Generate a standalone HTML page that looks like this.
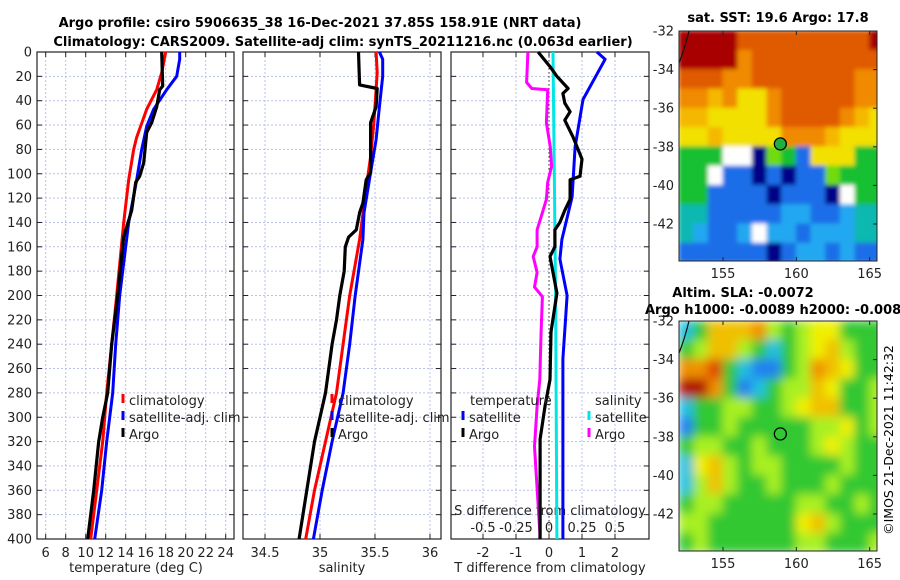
<!DOCTYPE html>
<html><head><meta charset="utf-8">
<style>
html,body{margin:0;padding:0;background:#fff;}
svg{display:block;font-family:"DejaVu Sans","Liberation Sans",sans-serif;}
</style></head>
<body>
<svg id="fig" width="900" height="580" viewBox="0 0 900 580" xmlns="http://www.w3.org/2000/svg">
<text x="320" y="27" font-size="13" font-weight="bold" text-anchor="middle">Argo profile: csiro 5906635_38 16-Dec-2021 37.85S 158.91E (NRT data)</text>
<text x="343" y="46" font-size="13" font-weight="bold" text-anchor="middle">Climatology: CARS2009. Satellite-adj clim: synTS_20211216.nc (0.063d earlier)</text>
<text x="778" y="22" font-size="13" font-weight="bold" text-anchor="middle">sat. SST: 19.6 Argo: 17.8</text>
<text x="743" y="297" font-size="13" font-weight="bold" text-anchor="middle">Altim. SLA: -0.0072</text>
<text x="645" y="314" font-size="13" font-weight="bold">Argo h1000: -0.0089 h2000: -0.008</text>
<text transform="translate(893,440) rotate(-90)" font-size="12.5" text-anchor="middle">©IMOS 21-Dec-2021 11:42:32</text>
<g id="layer"></g>
</svg>
<script>
// ---- Data: temperature panel ----
const climTDepth = [0,17,31,47,70,80,105,140,200,240,280,320,360,400];
const climT = [18.0,17.6,17.1,16.1,15.1,14.8,14.3,13.8,13.1,12.6,12.1,11.7,11.1,10.5];
const satTDepth = [0,6,20,31,47,61,80,105,140,200,240,280,320,360,400];
const satT = [19.4,19.4,19.1,18.1,16.8,16.1,15.6,15.1,14.3,13.4,13.0,12.7,12.1,11.6,10.9];
const argoTDepth = [0,28,31,45,58,66,91,102,107,130,152,175,200,220,240,260,280,300,320,360,400];
const argoT = [17.6,17.7,17.4,17.1,16.6,16.1,15.8,15.4,15.0,14.6,13.8,13.5,13.2,12.9,12.6,12.4,12.2,11.7,11.3,10.8,10.2];
// ---- Data: salinity panel ----
const climSDepth = [0,17,58,86,105,154,200,240,280,320,360,400];
const climS = [35.51,35.52,35.49,35.46,35.43,35.36,35.27,35.21,35.15,35.05,34.95,34.87];
const satSDepth = [0,6,20,45,72,99,132,154,200,240,280,320,360,400];
const satS = [35.54,35.57,35.57,35.54,35.51,35.46,35.40,35.39,35.32,35.27,35.21,35.11,35.02,34.94];
const argoSDepth = [0,27,30,45,58,99,105,124,132,146,152,160,180,200,220,240,260,280,300,320,360,400];
const argoS = [35.35,35.36,35.52,35.51,35.46,35.46,35.42,35.39,35.36,35.33,35.26,35.23,35.22,35.18,35.15,35.11,35.08,35.05,35.00,34.95,34.88,34.81];
// ---- Data: difference panel ----
const dTsatDepth = [0,6,39,78,119,154,170,200,220,252,318,400];
const dTsat = [1.45,1.7,1.03,0.79,0.70,0.39,0.33,0.55,0.5,0.42,0.42,0.42];
const dTargoDepth = [0,12,20,30,34,42,49,56,70,88,102,105,121,130,140,146,160,168,181,198,230,269,291,318,394,400];
const dTargo = [-0.33,0.03,0.24,0.58,0.42,0.48,0.64,0.48,0.73,1.0,0.94,0.64,0.64,0.48,0.33,0.18,0.18,0.03,0.12,0.24,0.06,0.03,-0.12,-0.27,-0.27,-0.27];
const dSsatDepth = [0,200,400];
const dSsat = [0.03,0.05,0.06];
const dSargoDepth = [0,25,30,31,58,78,94,107,121,132,146,160,168,181,193,201,230,269,291,324,394,400];
const dSargo = [-0.16,-0.17,-0.13,-0.01,-0.02,0.01,0.02,-0.01,-0.02,-0.05,-0.09,-0.09,-0.12,-0.09,-0.11,-0.05,-0.06,-0.07,-0.09,-0.11,-0.07,-0.07];
// ---- Tick labels ----
const depthTicks = [0,20,40,60,80,100,120,140,160,180,200,220,240,260,280,300,320,340,360,380,400];
const tempTicks = [6,8,10,12,14,16,18,20,22,24];
const salTicks = [34.5,35,35.5,36];
const salTickLabels = ["34.5","35","35.5","36"];
const dTTicks = [-2,-1,0,1,2];
const dSTicks = [-0.5,-0.25,0,0.25,0.5];
const dSTickLabels = ["-0.5","-0.25","0","0.25","0.5"];
const latTicks = [-32,-34,-36,-38,-40,-42];
const lonTicks = [155,160,165];
const argoLon = 158.91, argoLat = -37.85;
// ---- Map colour grids (1 deg cells, lon 152..166, lat -32..-44) ----
const sstGrid = [
"RRRROOOOOOOOOR","RRRRoOOOOOOOOO","OOOooOOOOOOOoo","ooYoyyoOOOOOoo",
"YYyyyyoOOOOoYy","yyYyyyyoooYyyy","gggwwnGgbyyygg","ggwbbnbnbbGggg",
"ggbbbbnbbbnwgg","ccbbbbbBBbbBcc","cBbbBwBBbBBBcc","bbbbbbnbBBbBbb"];
const slaGrid = [
"CGOOOoLGLYYGGG","GLOOLGCGLYOLGG","oorGCBBGLoOYGG","RRoGBCGLLOYGGL",
"CGGLLGGLYOOGGL","BGGLGGGGGLLYGL","GLLGGLGGGLYLGG","CYOLGLLGGGGLGG",
"CLOLGGLGGGLGGG","GLLGGGGGLLGGLG","LLGGGGGGYOLGGG","GLGGGGGGLLGGGL"];
const sstColors = {R:"#a80000",O:"#e05a00",o:"#f08a00",Y:"#f5b800",y:"#f2e000",G:"#70dc10",g:"#18c030",c:"#10b8b0",b:"#1e6ee8",B:"#22a8f0",n:"#000088",w:"#ffffff"};
const slaColors = {G:"#30c830",L:"#a8f020",Y:"#f0f000",O:"#f0c000",o:"#f09000",r:"#e04000",R:"#b01000",C:"#20c0e0",B:"#2080f0"};

const NS="http://www.w3.org/2000/svg";
const layer=document.getElementById('layer');
function mk(tag,attrs,parent){const e=document.createElementNS(NS,tag);for(const k in attrs)e.setAttribute(k,attrs[k]);(parent||layer).appendChild(e);return e;}

const TOP=52,BOT=539;
const yD=d=>TOP+d*(BOT-TOP)/400;
const xT=t=>45.7+(t-6)*10;
const xS=s=>265+(s-34.5)*110;
const xdT=t=>549+t*33;
const xdS=s=>549+s*132;

function panelFrame(name,x0,x1,vgrid,vxf){
  const g=mk('g',{});
  
  
  vgrid.forEach(v=>{const gx=vxf(v);const l=mk('line',{x1:gx,x2:gx,y1:TOP,y2:BOT,stroke:"#b8c0e8","stroke-width":1,"stroke-dasharray":"2,2"},g);
    });
  depthTicks.forEach(d=>{const y=yD(d);const l=mk('line',{x1:x0,x2:x1,y1:y,y2:y,stroke:"#b8c0e8","stroke-width":1,"stroke-dasharray":"2,2"},g);
    
    mk('line',{x1:x0,x2:x0+5,y1:y,y2:y,stroke:"#222"},g);mk('line',{x1:x1-5,x2:x1,y1:y,y2:y,stroke:"#222"},g);});
  vgrid.forEach(v=>{const gx=vxf(v);mk('line',{x1:gx,x2:gx,y1:BOT-5,y2:BOT,stroke:"#222"},g);mk('line',{x1:gx,x2:gx,y1:TOP,y2:TOP+5,stroke:"#222"},g);});
  const r=mk('rect',{x:x0,y:TOP,width:x1-x0,height:BOT-TOP,fill:"none",stroke:"#222","stroke-width":1.2},g);
  
  return g;
}
function series(name,depths,vals,xf,color,w){
  const pts=depths.map((d,i)=>xf(vals[i]).toFixed(1)+","+yD(d).toFixed(1)).join(" ");
  const p=mk('polyline',{points:pts,fill:"none",stroke:color,"stroke-width":w||3,"stroke-linejoin":"round"});
  
  
}
function text(name,x,y,s,opts){
  const t=mk('text',Object.assign({x:x,y:y,"font-size":13,fill:"#222"},opts||{}));
  t.textContent=s;
  
  
  return t;
}
function legendItem(name,x,y,color,label){
  const l=mk('line',{x1:x,x2:x,y1:y-11,y2:y-2,stroke:color,"stroke-width":3});
  
  
  text(name,x+6,y,label);
}

// Panel 1
panelFrame('temperature-panel',37,234,tempTicks,xT);
depthTicks.forEach(d=>text('depth-tick-label',32,yD(d)+4.5,String(d),{"text-anchor":"end"}));
tempTicks.forEach(t=>text('temp-tick-label',xT(t),557,String(t),{"text-anchor":"middle"}));
text('temp-x-axis-title',136,572,'temperature (deg C)',{"text-anchor":"middle"});
series('temp-climatology-line',climTDepth,climT,xT,'#ff0000');
series('temp-satellite-line',satTDepth,satT,xT,'#0000ff');
series('temp-argo-line',argoTDepth,argoT,xT,'#000000',3.2);
legendItem('legend-climatology',123,405,'#ff0000','climatology');
legendItem('legend-satellite-adj',123,422,'#0000ff','satellite-adj. clim');
legendItem('legend-argo',123,439,'#000000','Argo');

// Panel 2
panelFrame('salinity-panel',243,441,salTicks,xS);
salTicks.forEach((s,i)=>text('sal-tick-label',xS(s),557,salTickLabels[i],{"text-anchor":"middle"}));
text('sal-x-axis-title',342,572,'salinity',{"text-anchor":"middle"});
series('sal-climatology-line',climSDepth,climS,xS,'#ff0000');
series('sal-satellite-line',satSDepth,satS,xS,'#0000ff');
series('sal-argo-line',argoSDepth,argoS,xS,'#000000',3.2);
legendItem('legend-sal-climatology',332,405,'#ff0000','climatology');
legendItem('legend-sal-satellite-adj',332,422,'#0000ff','satellite-adj. clim');
legendItem('legend-sal-argo',332,439,'#000000','Argo');

// Panel 3
panelFrame('difference-panel',451,649,dTTicks,xdT);
const zl=mk('line',{x1:549,x2:549,y1:TOP,y2:BOT,stroke:"#333","stroke-width":1,"stroke-dasharray":"1.5,2.5"});

dTTicks.forEach(t=>text('dT-tick-label',xdT(t),557,String(t),{"text-anchor":"middle"}));
text('dT-x-axis-title',550,572,'T difference from climatology',{"text-anchor":"middle"});
text('dS-axis-title',550,515,'S difference from climatology',{"text-anchor":"middle"});
dSTicks.forEach((s,i)=>text('dS-tick-label',xdS(s),532,dSTickLabels[i],{"text-anchor":"middle"}));
series('dS-satellite-line',dSsatDepth,dSsat,xdS,'#00e5e5');
series('dS-argo-line',dSargoDepth,dSargo,xdS,'#ff00ff');
series('dT-satellite-line',dTsatDepth,dTsat,xdT,'#0000ff');
series('dT-argo-line',dTargoDepth,dTargo,xdT,'#000000',3.2);
text('legend-temperature-heading',470,405,'temperature');
legendItem('legend-dT-satellite',463,422,'#0000ff','satellite');
legendItem('legend-dT-argo',463,439,'#000000','Argo');
text('legend-salinity-heading',595,405,'salinity');
legendItem('legend-dS-satellite',589,422,'#00e5e5','satellite');
legendItem('legend-dS-argo',589,439,'#ff00ff','Argo');

// Maps
function drawMap(name,grid,colors,x0,x1,top,bot,pxPerLat,blur,filled){
  const lonL=152.0,lonR=165.5;
  const pxLon=(x1-x0)/(lonR-lonL);
  const xL=lon=>x0+(lon-lonL)*pxLon;
  const yL=lat=>top+(-32-lat)*pxPerLat;
  const g=mk('g',{});
  
  
  const cid='clip-'+name;
  const cp=mk('clipPath',{id:cid},g);mk('rect',{x:x0,y:top,width:x1-x0,height:bot-top},cp);
  const outer=mk('g',{"clip-path":"url(#"+cid+")"},g);
  const cells=mk('g',{},outer);
  if(blur){const f=mk('filter',{id:'bl-'+name,x:"-5%",y:"-5%",width:"110%",height:"110%"},g);mk('feGaussianBlur',{stdDeviation:blur},f);cells.setAttribute('filter','url(#bl-'+name+')');}
  grid.forEach((row,r)=>{for(let c=0;c<row.length;c++){
    const cell=mk('rect',{x:xL(lonL+c)-0.5,y:yL(-32-r)-0.5,width:pxLon+1,height:pxPerLat+1,fill:colors[row[c]]},cells);
    
    
  }});
  const coast=mk('path',{d:`M${x0+10} ${top} Q${x0+5} ${top+20} ${x0} ${top+32}`,fill:"none",stroke:"#111","stroke-width":1.2,"clip-path":"url(#"+cid+")"},g);
  
  mk('rect',{x:x0,y:top,width:x1-x0,height:bot-top,fill:"none",stroke:"#222","stroke-width":1},g);
  latTicks.forEach(l=>{const y=yL(l);mk('line',{x1:x1-4,x2:x1,y1:y,y2:y,stroke:"#222"},g);
    text('lat-tick-label',x0-5,y+4.5,String(l),{"text-anchor":"end"});});
  lonTicks.forEach(l=>{const x=xL(l);mk('line',{x1:x,x2:x,y1:top,y2:top+4,stroke:"#222"},g);mk('line',{x1:x,x2:x,y1:bot-4,y2:bot,stroke:"#222"},g);
    text('lon-tick-label',x,bot+17,String(l),{"text-anchor":"middle"});});
  const m=mk('circle',{cx:xL(argoLon),cy:yL(argoLat),r:6,fill:filled?"#20b040":"none",stroke:"#000","stroke-width":1.3},g);
  
}
drawMap('sst-map',sstGrid,sstColors,679,877,31,261,19.3,2,true);
drawMap('sla-map',slaGrid,slaColors,679,877,321,551,19.3,5,false);
</script>
</body></html>
